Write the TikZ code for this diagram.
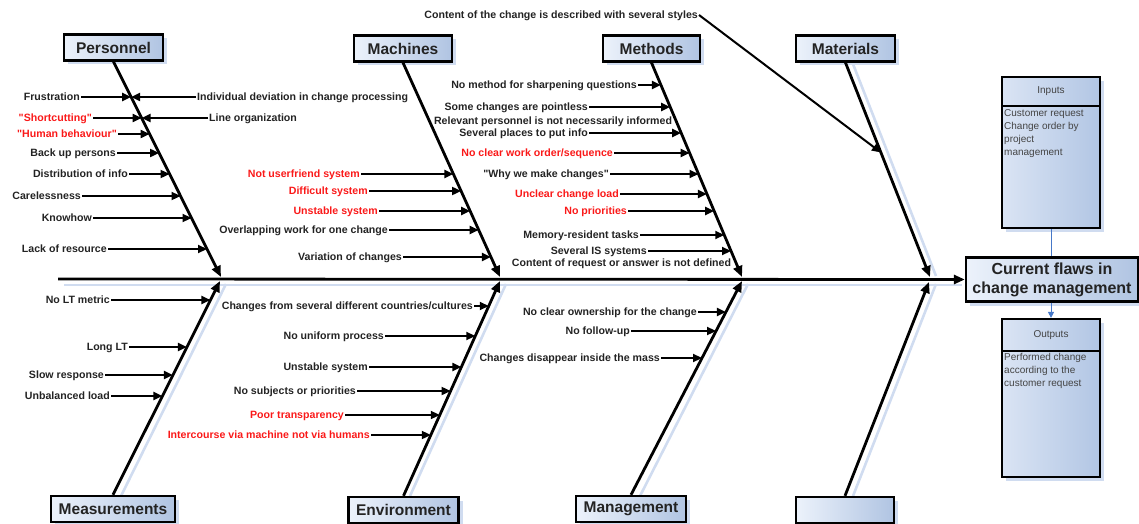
\documentclass[tikz,border=0pt]{standalone}
\usepackage{fontspec}
\setmainfont{Liberation Sans}[Ligatures=TeXOff]
\usetikzlibrary{arrows.meta,intersections,calc,shadows}
\definecolor{txt}{RGB}{35,35,35}
\definecolor{redt}{RGB}{250,25,25}
\definecolor{boxlt}{RGB}{236,242,251}
\definecolor{boxdk}{RGB}{176,196,226}
\definecolor{iolt}{RGB}{218,228,244}
\definecolor{iodk}{RGB}{178,198,228}
\definecolor{shadowc}{RGB}{208,220,240}
\definecolor{linkc}{RGB}{70,120,200}
\newcommand\twigR[2]{%
  \path[name path=tmpray] (#1.east) -- ++(200,0);
  \draw[arr, name intersections={of=tmpray and #2, by=#1tip}] (#1.east) -- (#1tip);}
\newcommand\twigL[2]{%
  \path[name path=tmpray] (#1.west) -- ++(-200,0);
  \draw[arr, name intersections={of=tmpray and #2, by=#1tip}] (#1.west) -- (#1tip);}
\begin{document}
\begin{tikzpicture}[x=1pt,y=-1pt,
  lbl/.style={font=\bfseries\fontsize{10.6}{12}\selectfont, text=txt, inner sep=1pt, text height=7.6pt, text depth=0pt},
  lblr/.style={lbl, text=redt},
  arr/.style={line width=2pt, -{Triangle[length=9pt,width=8pt]}},
  bone/.style={line width=2.8pt, -{Triangle[length=11pt,width=9pt]}},
  bshadow/.style={shadowc, line width=2.6pt},
  boxsh/.style={drop shadow={shadow xshift=4pt, shadow yshift=-4pt, fill=shadowc, opacity=1}},
  catbox/.style={draw=black, line width=2.4pt, left color=boxlt, right color=boxdk, boxsh,
    font=\bfseries\fontsize{15.5}{17}\selectfont, text=txt, inner sep=0pt, minimum height=26pt},
  iobox/.style={draw=black, line width=2.2pt, left color=iolt, right color=iodk, boxsh,
    font=\fontsize{10}{13}\selectfont, text=txt!85, inner sep=0pt, minimum width=98pt},
  iotext/.style={font=\fontsize{10}{13}\selectfont, text=txt!85, inner sep=0pt, align=left, anchor=north west},
]
\useasboundingbox (0,0) rectangle (1139,524);

% shadows of bones and spine
\draw[bshadow] (64,285) -- (962,285);
\draw[bshadow] (121,496) -- (226,284);
\draw[bshadow] (410,496) -- (506,284);
\draw[bshadow] (640,496) -- (748,284);
\draw[bshadow] (853,496) -- (936,284);
\draw[bshadow] (853,64) -- (936,276);

% category boxes
\node[catbox, minimum width=99pt] (pers) at (113.5,47.5) {Personnel};
\node[catbox, minimum width=98pt] (mach) at (403,48.5) {Machines};
\node[catbox, minimum width=97pt] (meth) at (651.5,48.5) {Methods};
\node[catbox, minimum width=99pt] (mat) at (845.5,48.5) {Materials};
\node[catbox, minimum width=124pt] (meas) at (113,509) {Measurements};
\node[catbox, minimum width=110pt] (env) at (403.5,510) {Environment};
\node[catbox, minimum width=110pt] (mgmt) at (631,509) {Management};
\node[catbox, minimum width=98pt] (empt) at (845,510) {};

% main box
\node[catbox, minimum width=172pt, minimum height=44pt, align=center,
  font=\bfseries\fontsize{16}{19}\selectfont] (main) at (1052,279.5) {Current flaws in\\change management};

% inputs / outputs
\node[iobox, minimum height=29pt] (inh) at (1051,91.5) {Inputs};
\node[iobox, minimum height=122pt] (inb) at (1051,167) {};
\node[iotext] (intx) at (1004,109) {Customer request\\Change order by\\project\\management};
\node[iobox, minimum height=32pt] (outh) at (1051,335) {Outputs};
\node[iobox, minimum height=126pt] (outb) at (1051,414) {};
\node[iotext] (outx) at (1004,353) {Performed change\\according to the\\customer request};
\draw[linkc, line width=1pt] (inb.south) -- (inb.south |- main.north);
\draw[linkc, line width=1pt, -{Triangle[length=6pt,width=6pt]}] (outh.north |- main.south) -- (outh.north);

% spine
\coordinate (s0) at (58,279);
\draw[bone] (s0) -- (main.west);

% junctions
\coordinate (jP) at (221,277);
\coordinate (jM) at (500,277);
\coordinate (jMe) at (742,277);
\coordinate (jMa) at (930,277);
\coordinate (kP) at (220,281);
\coordinate (kM) at (500,281);
\coordinate (kMe) at (742,281);
\coordinate (kMa) at (929,282);

% bones
\draw[bone, name path=bP] (pers.south) -- (jP);
\draw[bone, name path=bM] (mach.south) -- (jM);
\draw[bone, name path=bMe] (meth.south) -- (jMe);
\draw[bone, name path=bMa] (mat.south) -- (jMa);
\draw[bone, name path=cP] (meas.north) -- (kP);
\draw[bone, name path=cM] (env.north) -- (kM);
\draw[bone, name path=cMe] (mgmt.north) -- (kMe);
\draw[bone] (empt.north) -- (kMa);

% content line to Materials
\node[lbl, anchor=east] (cc) at (699,15) {Content of the change is described with several styles};
\coordinate (ccT) at ($(mat.south)!0.419!(jMa)$);
\draw[arr] (cc.east) -- (ccT);

% Personnel
\node[lbl, anchor=east] (pa) at (81,97) {Frustration}; \twigR{pa}{bP}
\node[lbl, anchor=west] (pb) at (196,97) {Individual deviation in change processing}; \twigL{pb}{bP}
\node[lblr, anchor=east] (pc) at (93,118) {"Shortcutting"}; \twigR{pc}{bP}
\node[lbl, anchor=west] (pd) at (208,118) {Line organization}; \twigL{pd}{bP}
\node[lblr, anchor=east] (pe) at (118,134) {"Human behaviour"}; \twigR{pe}{bP}
\node[lbl, anchor=east] (pf) at (117,153) {Back up persons}; \twigR{pf}{bP}
\node[lbl, anchor=east] (pg) at (129,174) {Distribution of info}; \twigR{pg}{bP}
\node[lbl, anchor=east] (ph) at (82,196) {Carelessness}; \twigR{ph}{bP}
\node[lbl, anchor=east] (pi) at (93,218) {Knowhow}; \twigR{pi}{bP}
\node[lbl, anchor=east] (pj) at (108,249) {Lack of resource}; \twigR{pj}{bP}

% Machines
\node[lblr, anchor=east] (ma) at (361,174) {Not userfriend system}; \twigR{ma}{bM}
\node[lblr, anchor=east] (mb) at (369,191) {Difficult system}; \twigR{mb}{bM}
\node[lblr, anchor=east] (mc) at (379,211) {Unstable system}; \twigR{mc}{bM}
\node[lbl, anchor=east] (md) at (389,230) {Overlapping work for one change}; \twigR{md}{bM}
\node[lbl, anchor=east] (me) at (403,257) {Variation of changes}; \twigR{me}{bM}

% Methods
\node[lbl, anchor=east] (ta) at (638,85) {No method for sharpening questions}; \twigR{ta}{bMe}
\node[lbl, anchor=east] (tb) at (589,107) {Some changes are pointless}; \twigR{tb}{bMe}
\node[lbl] (tc) at (553,121) {Relevant personnel is not necessarily informed};
\node[lbl, anchor=east] (td) at (589,133) {Several places to put info}; \twigR{td}{bMe}
\node[lblr, anchor=east] (te) at (614,153) {No clear work order/sequence}; \twigR{te}{bMe}
\node[lbl, anchor=east] (tf) at (610,174) {"Why we make changes"}; \twigR{tf}{bMe}
\node[lblr, anchor=east] (tg) at (620,194) {Unclear change load}; \twigR{tg}{bMe}
\node[lblr, anchor=east] (th) at (628,211) {No priorities}; \twigR{th}{bMe}
\node[lbl, anchor=east] (ti) at (640,235) {Memory-resident tasks}; \twigR{ti}{bMe}
\node[lbl, anchor=east] (tj) at (648,251) {Several IS systems}; \twigR{tj}{bMe}
\node[lbl] (tk) at (621.5,263) {Content of request or answer is not defined};

% Measurements
\node[lbl, anchor=east] (ea) at (111,300) {No LT metric}; \twigR{ea}{cP}
\node[lbl, anchor=east] (eb) at (129,347) {Long LT}; \twigR{eb}{cP}
\node[lbl, anchor=east] (ec) at (105,375) {Slow response}; \twigR{ec}{cP}
\node[lbl, anchor=east] (ed) at (111,396) {Unbalanced load}; \twigR{ed}{cP}

% Environment
\node[lbl, anchor=east] (va) at (474,306) {Changes from several different countries/cultures}; \twigR{va}{cM}
\node[lbl, anchor=east] (vb) at (385,336) {No uniform process}; \twigR{vb}{cM}
\node[lbl, anchor=east] (vc) at (369,367) {Unstable system}; \twigR{vc}{cM}
\node[lbl, anchor=east] (vd) at (357,391) {No subjects or priorities}; \twigR{vd}{cM}
\node[lblr, anchor=east] (ve) at (345,415) {Poor transparency}; \twigR{ve}{cM}
\node[lblr, anchor=east] (vf) at (371,435) {Intercourse via machine not via humans}; \twigR{vf}{cM}

% Management
\node[lbl, anchor=east] (ga) at (698,312) {No clear ownership for the change}; \twigR{ga}{cMe}
\node[lbl, anchor=east] (gb) at (631,331) {No follow-up}; \twigR{gb}{cMe}
\node[lbl, anchor=east] (gc) at (661,358) {Changes disappear inside the mass}; \twigR{gc}{cMe}
\end{tikzpicture}
\end{document}
